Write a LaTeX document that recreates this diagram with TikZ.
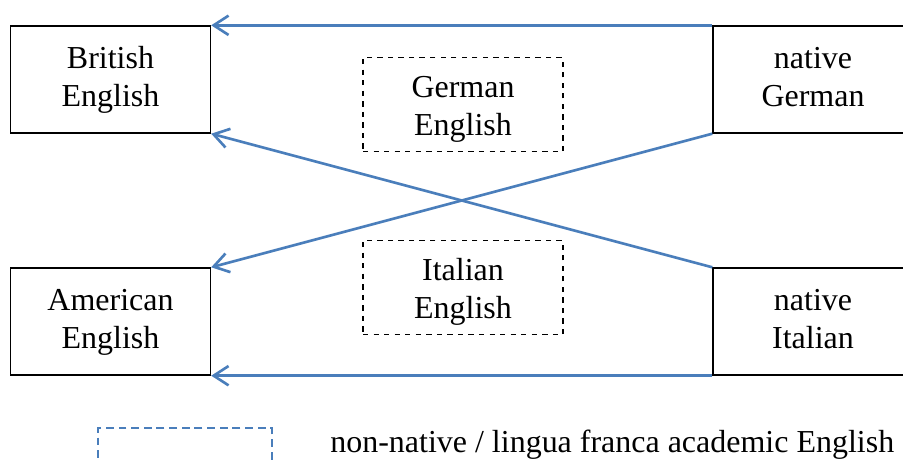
\documentclass[tikz,border=0pt]{standalone}
\usepackage{fontspec}
\setmainfont{Liberation Serif}
\usepackage{xcolor}
\usetikzlibrary{arrows.meta}
\definecolor{lineblue}{RGB}{74,126,187}
\newcommand{\topgap}{\rule{0pt}{20.5pt}}

\begin{document}
\begin{tikzpicture}[x=0.02cm,y=-0.02cm]
    \tikzstyle{langbox}=[rectangle,draw,line width=0.8pt,minimum width=4cm,minimum height=2.14cm,align=center,font=\fontsize{18.2}{21.6}\selectfont,inner sep=0pt]
    \tikzstyle{mixbox}=[langbox,dashed,line width=0.6pt,minimum height=1.88cm]
    \tikzstyle{link}=[draw=lineblue,line width=1.5pt,-{Straight Barb[length=8.5pt,width=11pt,line width=1.5pt]}]
    \useasboundingbox (0,0) rectangle (903,462);
    \clip (0,0) rectangle (903,462);
    % native varieties
    \node[langbox] (brit) at (110.5,79.5) {\strut British\\\strut English};
    \node[langbox] (amer) at (110.5,321.5) {\strut American\\\strut English};
    \node[langbox] (natger) at (813,79.5) {\strut native\\\strut German};
    \node[langbox] (natita) at (813,321.5) {\strut native\\\strut Italian};
    % non-native varieties
    \node[mixbox] (gereng) at (463,104.5) {\topgap German\\\strut English};
    \node[mixbox] (itaeng) at (463,287.5) {\topgap Italian\\\strut English};
    % arrows
    \draw[link] (natger.north west) -- (brit.north east);
    \draw[link] (natger.south west) -- (amer.north east);
    \draw[link] (natita.north west) -- (brit.south east);
    \draw[link] (natita.south west) -- (amer.south east);
    % legend
    \node[draw=lineblue,line width=0.9pt,minimum width=3.48cm,minimum height=1.2cm,inner sep=0pt,dash pattern=on 4.5pt off 2.7pt] (legbox) at (185,458) {};
    \node[anchor=west,inner sep=0pt,font=\fontsize{18.2}{21.6}\selectfont] (legtext) at (330,445) {non-native / lingua franca academic English};
\end{tikzpicture}
\end{document}
